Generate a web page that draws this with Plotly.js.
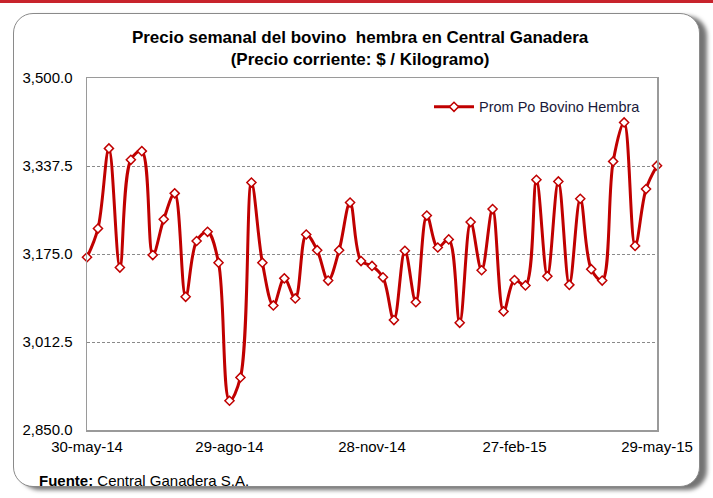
<!DOCTYPE html>
<html>
<head>
<meta charset="utf-8">
<script src="https://cdn.plot.ly/plotly-3.0.1.min.js"></script>
<style>
  html, body { margin: 0; padding: 0; background: #ffffff; }
  #wrap { position: relative; width: 713px; height: 498px; overflow: hidden; background: #fff; }
  #band { position: absolute; left: 0; top: 0; width: 713px; height: 3px; background: #C8232C; }
  #frame { position: absolute; left: 13px; top: 13px; width: 685px; height: 472px;
           border: 1.5px solid #8a8a8a; border-radius: 20px;
           box-shadow: 7px 3px 4px rgba(0,0,0,0.55); background: #fff; }
  #chart { position: absolute; left: 0; top: 0; width: 713px; height: 498px; }
</style>
</head>
<body>
<div id="wrap">
  <div id="band"></div>
  <div id="frame"></div>
  <div id="chart"></div>
</div>
<script>
const dates = [
  "2014-05-30","2014-06-06","2014-06-13","2014-06-20","2014-06-27","2014-07-04","2014-07-11","2014-07-18","2014-07-25",
  "2014-08-01","2014-08-08","2014-08-15","2014-08-22","2014-08-29","2014-09-05","2014-09-12","2014-09-19","2014-09-26",
  "2014-10-03","2014-10-10","2014-10-17","2014-10-24","2014-10-31","2014-11-07","2014-11-14","2014-11-21","2014-11-28",
  "2014-12-05","2014-12-12","2014-12-19","2014-12-26","2015-01-02","2015-01-09","2015-01-16","2015-01-23","2015-01-30",
  "2015-02-06","2015-02-13","2015-02-20","2015-02-27","2015-03-06","2015-03-13","2015-03-20","2015-03-27","2015-04-03",
  "2015-04-10","2015-04-17","2015-04-24","2015-05-01","2015-05-08","2015-05-15","2015-05-22","2015-05-29"
];
const precios = [
  3169, 3222, 3370, 3150, 3349, 3365, 3173, 3239, 3287, 3096,
  3199, 3216, 3159, 2904, 2947, 3307, 3159, 3080, 3130, 3093,
  3211, 3182, 3126, 3182, 3270, 3162, 3153, 3132, 3053, 3181,
  3086, 3246, 3187, 3202, 3048, 3234, 3145, 3258, 3069, 3127,
  3117, 3312, 3134, 3309, 3118, 3277, 3147, 3126, 3346, 3418,
  3190, 3295, 3338
];
const seriesName = "Prom Po Bovino Hembra";
const xTickVals = ["2014-05-30","2014-08-29","2014-11-28","2015-02-27","2015-05-29"];
const xTickText = ["30-may-14","29-ago-14","28-nov-14","27-feb-15","29-may-15"];
const yTickVals = [2850, 3012.5, 3175, 3337.5, 3500];

const trace = {
  x: dates, y: precios, name: seriesName,
  type: "scatter", mode: "lines+markers",
  line: { color: "#C00000", width: 3, shape: "spline", smoothing: 1 },
  marker: { symbol: "diamond", size: 7, color: "#ffffff", line: { color: "#C00000", width: 1.5 } },
  cliponaxis: false
};

const layout = {
  width: 713, height: 498,
  margin: { l: 87, r: 56, t: 78, b: 68 },
  paper_bgcolor: "rgba(0,0,0,0)",
  plot_bgcolor: "#ffffff",
  font: { family: "Arial, 'Liberation Sans', sans-serif", color: "#000000", size: 15 },
  title: {
    text: "<b>Precio semanal del bovino  hembra en Central Ganadera<br>(Precio corriente: $ / Kilogramo)</b>",
    font: { size: 17, family: "Arial, 'Liberation Sans', sans-serif", color: "#000" },
    x: 0.505, xanchor: "center", y: 0.913, yanchor: "top", yref: "container"
  },
  xaxis: {
    type: "date",
    range: ["2014-05-30", "2015-05-29"],
    tickmode: "array", tickvals: xTickVals, ticktext: xTickText,
    showgrid: false, zeroline: false,
    showline: true, mirror: true, linecolor: "#9a9a9a", linewidth: 1.5,
    ticks: "outside", ticklen: 2, tickcolor: "rgba(0,0,0,0)",
    tickfont: { size: 15 }
  },
  yaxis: {
    range: [2850, 3500],
    tickmode: "array", tickvals: yTickVals,
    tickformat: ",.1f",
    showgrid: true, gridcolor: "#8a8a8a", gridwidth: 1, griddash: "3px,2px",
    zeroline: false,
    showline: true, mirror: true, linecolor: "#9a9a9a", linewidth: 1.5,
    ticks: "outside", ticklen: 10, tickcolor: "rgba(0,0,0,0)",
    tickfont: { size: 15 }
  },
  showlegend: true,
  legend: {
    x: 0.60, xanchor: "left", y: 0.918, yanchor: "middle",
    bgcolor: "rgba(0,0,0,0)", borderwidth: 0,
    font: { size: 14.5, color: "#1a1a3a" },
    itemwidth: 40
  },
  annotations: [
    {
      text: "<b>Fuente:</b> Central Ganadera S.A.",
      xref: "paper", yref: "paper",
      x: (37 - 87) / 570, y: (430 - 480) / 352,
      xanchor: "left", yanchor: "middle", showarrow: false,
      font: { size: 15, color: "#000" }
    }
  ]
};

Plotly.newPlot("chart", [trace], layout, { displayModeBar: false, staticPlot: true });
</script>
</body>
</html>
